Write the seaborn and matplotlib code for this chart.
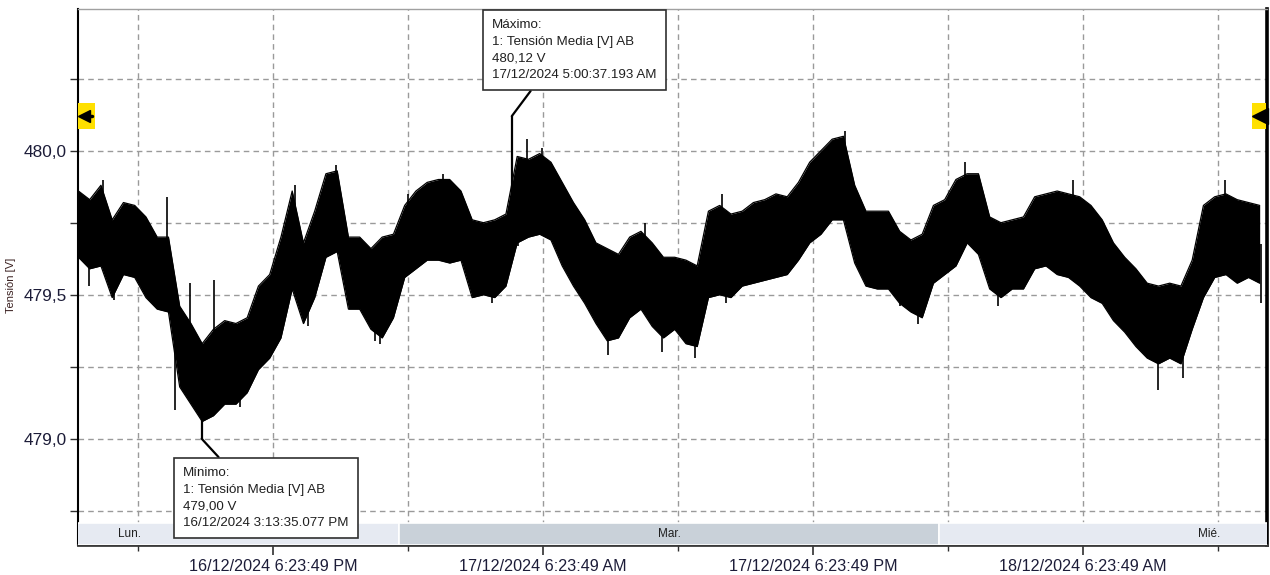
import numpy as np
import pandas as pd
import matplotlib
matplotlib.use("Agg")
import matplotlib.pyplot as plt
import matplotlib.dates as mdates
from matplotlib.patches import Rectangle
from matplotlib.transforms import blended_transform_factory
import seaborn as sns

# ---- data: per half-hour envelope (max / min) of the mean voltage AB ----
sample_start = "2024-12-16 09:45:00"
sample_step = "30min"
upper = [479.86, 479.83, 479.88, 479.76, 479.82, 479.81, 479.77, 479.70, 479.70, 479.46,
         479.40, 479.33, 479.38, 479.41, 479.40, 479.42, 479.53, 479.57, 479.70, 479.86,
         479.68, 479.79, 479.92, 479.93, 479.70, 479.70, 479.66, 479.70, 479.71, 479.81,
         479.86, 479.89, 479.90, 479.90, 479.86, 479.76, 479.75, 479.76, 479.78, 479.98,
         479.97, 479.99, 479.96, 479.89, 479.82, 479.76, 479.68, 479.66, 479.64, 479.70,
         479.72, 479.68, 479.63, 479.63, 479.62, 479.60, 479.79, 479.81, 479.78, 479.79,
         479.82, 479.83, 479.85, 479.84, 479.89, 479.96, 480.00, 480.04, 480.05, 479.88,
         479.79, 479.79, 479.79, 479.72, 479.69, 479.71, 479.81, 479.83, 479.90, 479.92,
         479.92, 479.77, 479.75, 479.76, 479.77, 479.84, 479.85, 479.86, 479.85, 479.84,
         479.81, 479.76, 479.68, 479.63, 479.59, 479.54, 479.53, 479.54, 479.53, 479.62,
         479.81, 479.84, 479.85, 479.83, 479.82, 479.81]
lower = [479.63, 479.59, 479.60, 479.49, 479.57, 479.56, 479.49, 479.45, 479.44, 479.18,
         479.12, 479.06, 479.08, 479.12, 479.12, 479.16, 479.24, 479.28, 479.35, 479.52,
         479.40, 479.49, 479.63, 479.65, 479.45, 479.45, 479.38, 479.35, 479.42, 479.56,
         479.59, 479.62, 479.62, 479.61, 479.62, 479.49, 479.50, 479.49, 479.53, 479.68,
         479.70, 479.71, 479.69, 479.60, 479.53, 479.47, 479.40, 479.34, 479.35, 479.42,
         479.45, 479.39, 479.35, 479.38, 479.33, 479.32, 479.49, 479.50, 479.49, 479.53,
         479.54, 479.55, 479.56, 479.57, 479.62, 479.68, 479.71, 479.76, 479.76, 479.61,
         479.53, 479.52, 479.52, 479.47, 479.44, 479.42, 479.54, 479.57, 479.60, 479.68,
         479.64, 479.52, 479.49, 479.52, 479.52, 479.59, 479.60, 479.57, 479.56, 479.53,
         479.49, 479.47, 479.41, 479.37, 479.32, 479.28, 479.26, 479.28, 479.26, 479.38,
         479.49, 479.56, 479.57, 479.54, 479.56, 479.54]

# isolated short readings that stick out of the band
spike_times = ["2024-12-16 10:13", "2024-12-16 10:50", "2024-12-16 11:20", "2024-12-16 13:42",
               "2024-12-16 14:02", "2024-12-16 14:42", "2024-12-16 15:47", "2024-12-16 16:55",
               "2024-12-16 19:22", "2024-12-16 19:57", "2024-12-16 21:13", "2024-12-16 22:55",
               "2024-12-16 23:09", "2024-12-17 00:25", "2024-12-17 01:58", "2024-12-17 04:07",
               "2024-12-17 05:18", "2024-12-17 05:40", "2024-12-17 06:20", "2024-12-17 09:16",
               "2024-12-17 10:56", "2024-12-17 11:40", "2024-12-17 13:10", "2024-12-17 14:21",
               "2024-12-17 14:32", "2024-12-17 19:50", "2024-12-17 22:16", "2024-12-17 23:05",
               "2024-12-18 01:10", "2024-12-18 02:36", "2024-12-18 05:56", "2024-12-18 09:43",
               "2024-12-18 10:51", "2024-12-18 12:42", "2024-12-18 14:18"]
spike_values = [479.53, 479.90, 479.48, 479.84, 479.10, 479.54, 479.55, 479.11,
                479.88, 479.39, 479.95, 479.34, 479.33, 479.85, 479.92, 479.47,
                479.67, 480.04, 480.01, 479.29, 479.75, 479.30, 479.28, 479.85,
                479.47, 480.07, 479.46, 479.40, 479.96, 479.46, 479.90, 479.17,
                479.21, 479.90, 479.47]

# extreme events (single readings) and the band level they rise from
min_time = "2024-12-16 15:13:35.077"
min_value = 479.00
min_base = 479.08
max_time = "2024-12-17 05:00:37.193"
max_value = 480.12
max_base = 479.80

day_bounds = ["2024-12-16", "2024-12-17", "2024-12-18", "2024-12-19"]
day_names = ["Lun.", "Mar.", "Mié."]
day_colors = ["#e6eaf2", "#c9d1d9", "#e6eaf2"]

first_major_tick = "2024-12-16 18:23:49"
view_start = "2024-12-16 09:43:49"
view_end = "2024-12-18 14:34:30"
y_min, y_max = 478.631, 480.492

# ---- frame ----
df = pd.DataFrame({
    "time": pd.date_range(sample_start, periods=len(upper), freq=sample_step),
    "upper": upper,
    "lower": lower,
})
spikes = pd.DataFrame({"time": pd.to_datetime(spike_times), "value": spike_values})

sns.set_style("white")
plt.rcParams["font.family"] = ["Liberation Sans", "DejaVu Sans"]

fig = plt.figure(figsize=(12.7, 5.75), dpi=100)
ax = fig.add_axes([78 / 1270, 1 - 545 / 575, 1189 / 1270, 536 / 575])

tick_col = "#1c1c38"
grid_kw = dict(color="#9a9a9a", linestyle=(0, (4, 3)), linewidth=1.0)

# signal band
ax.fill_between(df["time"], df["lower"], df["upper"], color="black", lw=0, zorder=3)
sns.lineplot(data=df, x="time", y="upper", color="black", lw=0.9, ax=ax, zorder=3)
sns.lineplot(data=df, x="time", y="lower", color="black", lw=0.9, ax=ax, zorder=3)

# spikes: from the middle of the band out to each reading
t_num = mdates.date2num(df["time"])
mid_band = (df["upper"].to_numpy() + df["lower"].to_numpy()) / 2
s_num = mdates.date2num(spikes["time"])
ax.vlines(spikes["time"], np.interp(s_num, t_num, mid_band), spikes["value"],
          color="black", lw=1.2, zorder=3)
ax.vlines(pd.Timestamp(min_time), min_value, min_base, color="black", lw=1.6, zorder=3)
ax.vlines(pd.Timestamp(max_time), max_base, max_value, color="black", lw=1.6, zorder=3)

# axes limits and ticks
ax.set_xlim(pd.Timestamp(view_start), pd.Timestamp(view_end))
ax.set_ylim(y_min, y_max)

major_ticks = pd.date_range(first_major_tick, periods=4, freq="12h")
minor_ticks = pd.date_range(pd.Timestamp(first_major_tick) - pd.Timedelta("6h"), periods=5, freq="12h")


def stamp(t):
    h = t.hour % 12 or 12
    return f"{t.day:02d}/{t.month:02d}/{t.year} {h}:{t.minute:02d}:{t.second:02d} {'AM' if t.hour < 12 else 'PM'}"


ax.set_xticks(major_ticks)
ax.set_xticklabels([stamp(t) for t in major_ticks], fontsize=11.6, color=tick_col)
ax.set_xticks(minor_ticks, minor=True)
y_major = [479.0, 479.5, 480.0]
y_minor = [478.75, 479.25, 479.75, 480.25]
ax.set_yticks(y_major)
ax.set_yticklabels([f"{v:.1f}".replace(".", ",") for v in y_major], fontsize=12.4, color=tick_col)
ax.set_yticks(y_minor, minor=True)
ax.tick_params(axis="x", which="major", length=7, width=1.2, color="#303030", pad=3, bottom=True)
ax.tick_params(axis="x", which="minor", length=4, width=1.0, color="#303030", bottom=True)
ax.tick_params(axis="y", which="both", length=6, width=1.0, color="#303030", pad=2, left=True)

ax.grid(True, which="both", **grid_kw)
ax.set_axisbelow(True)

ax.set_xlabel("")
ax.set_ylabel("Tensión [V]", fontsize=8, color="#3a2020")
ax.yaxis.set_label_coords(-0.052, 0.485)

for side, col, lw in [("top", "#a0a0a0", 1.0), ("left", "black", 1.5),
                      ("bottom", "#3a3a3a", 2.0), ("right", "black", 2.6)]:
    ax.spines[side].set_visible(True)
    ax.spines[side].set_color(col)
    ax.spines[side].set_linewidth(lw)

# weekday strip along the bottom
strip = blended_transform_factory(ax.transData, ax.transAxes)
strip_h = 22 / 536
for i, name in enumerate(day_names):
    d0 = mdates.date2num(pd.Timestamp(day_bounds[i]))
    d1 = mdates.date2num(pd.Timestamp(day_bounds[i + 1]))
    ax.add_patch(Rectangle((d0, 0), d1 - d0, strip_h, transform=strip, facecolor=day_colors[i],
                           edgecolor="white", lw=1.2, zorder=4, clip_on=True))
    mid = pd.Timestamp(day_bounds[i]) + pd.Timedelta("12h")
    ax.text(mid, strip_h / 2, name, transform=strip, ha="center", va="center",
            fontsize=8.5, color="#202020", zorder=5)

# level markers at the maximum on both sides
level = blended_transform_factory(ax.transAxes, ax.transData)
mark_h = 26 / 288
ax.add_patch(Rectangle((0, max_value - mark_h / 2), 17 / 1189, mark_h, transform=level,
                       facecolor="#ffe000", edgecolor="none", zorder=6, clip_on=False))
ax.add_patch(Rectangle((1 - 15 / 1189, max_value - mark_h / 2), 14 / 1189, mark_h, transform=level,
                       facecolor="#ffe000", edgecolor="none", zorder=6, clip_on=False))
ax.plot([6 / 1189], [max_value], marker="<", ms=8, color="black", transform=level, zorder=7, clip_on=False)
ax.plot([6 / 1189, 14 / 1189], [max_value, max_value], color="black", lw=2.5, transform=level,
        zorder=7, clip_on=False)
ax.plot([1 - 7 / 1189], [max_value], marker="<", ms=11, color="black", transform=level,
        zorder=7, clip_on=False)

# min / max callouts
box = dict(boxstyle="square,pad=0.7", facecolor="white", edgecolor="#303030", lw=1.2)
txt_kw = dict(fontsize=9.6, color="#202020", ha="left", va="top", linespacing=1.52,
              textcoords="figure pixels", bbox=box, zorder=8, annotation_clip=False)

min_label = (f"Mínimo:\n1: Tensión Media [V] AB\n{min_value:.2f} V\n".replace(".", ",")
             + "16/12/2024 3:13:35.077 PM")
max_label = (f"Máximo:\n1: Tensión Media [V] AB\n{max_value:.2f} V\n".replace(".", ",")
             + "17/12/2024 5:00:37.193 AM")

ax.annotate(min_label, xy=(pd.Timestamp(min_time), min_value), xytext=(183, 575 - 467),
            arrowprops=dict(arrowstyle="-", color="black", lw=1.6, shrinkA=0, shrinkB=0,
                            relpos=(0.27, 1.0)), **txt_kw)
ax.annotate(max_label, xy=(pd.Timestamp(max_time), max_value), xytext=(492, 575 - 19),
            arrowprops=dict(arrowstyle="-", color="black", lw=1.6, shrinkA=0, shrinkB=0,
                            relpos=(0.28, 0.0)), **txt_kw)

fig.savefig("out.png", dpi=100)
